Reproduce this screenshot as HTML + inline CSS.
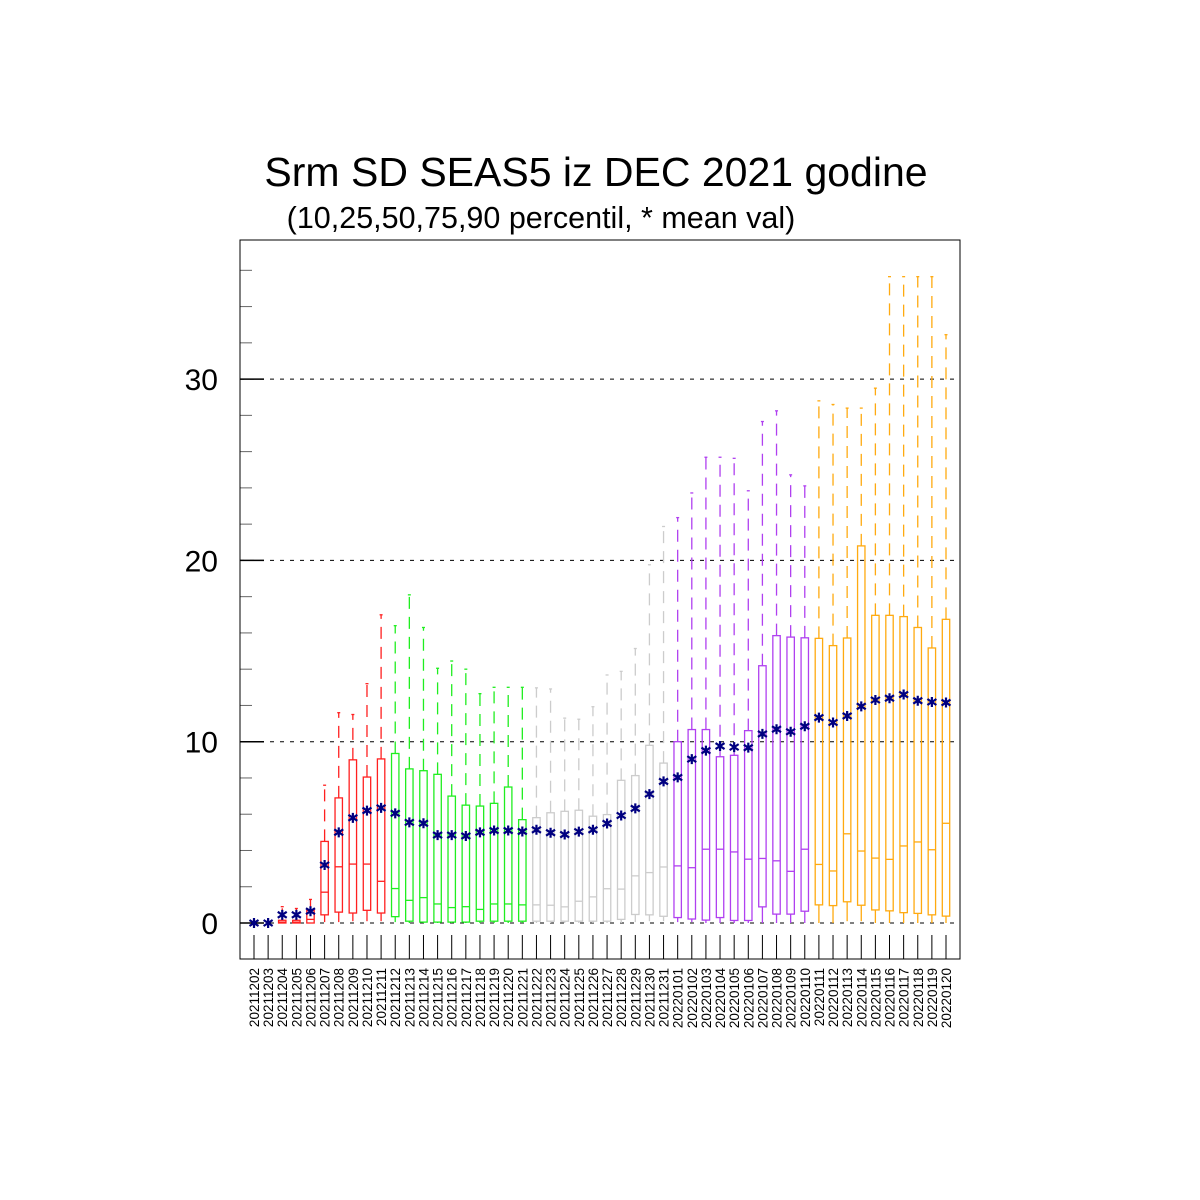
<!DOCTYPE html>
<html><head><meta charset="utf-8"><style>
html,body{margin:0;padding:0;background:#fff;}
svg{display:block;font-family:"Liberation Sans",sans-serif;}
</style></head><body>
<svg id="chart" width="1200" height="1200" viewBox="0 0 1200 1200" xmlns="http://www.w3.org/2000/svg">
<rect width="1200" height="1200" fill="#fff"/>
<text x="596" y="186" font-size="41" text-anchor="middle" fill="#000">Srm SD SEAS5 iz DEC 2021 godine</text>
<text x="541" y="228" font-size="30.5" text-anchor="middle" fill="#000">(10,25,50,75,90 percentil, * mean val)</text>
<g id="plot"></g>
</svg>
<script>
const categories = ["20211202","20211203","20211204","20211205","20211206","20211207","20211208","20211209","20211210","20211211","20211212","20211213","20211214","20211215","20211216","20211217","20211218","20211219","20211220","20211221","20211222","20211223","20211224","20211225","20211226","20211227","20211228","20211229","20211230","20211231","20220101","20220102","20220103","20220104","20220105","20220106","20220107","20220108","20220109","20220110","20220111","20220112","20220113","20220114","20220115","20220116","20220117","20220118","20220119","20220120"];
const p10 = [0,0,0,0,0,0.05,0.05,0.1,0.1,0.1,0.05,0,0,0,0,0,0,0,0,0,0,0,0,0,0,0,0,0.05,0.1,0.1,0.05,0.05,0,0,0,0,0,0,0,0,0,0,0.1,0.1,0,0,0,0,0,0];
const p25 = [0,0,0,0,0,0.45,0.6,0.55,0.7,0.55,0.35,0.1,0.05,0.05,0.05,0.05,0.1,0.1,0.1,0.1,0.1,0.1,0.1,0.1,0.1,0.1,0.2,0.47,0.45,0.37,0.3,0.22,0.16,0.3,0.14,0.14,0.89,0.49,0.49,0.65,1.0,0.96,1.17,0.98,0.72,0.67,0.57,0.53,0.45,0.38];
const p50 = [0,0,0.05,0.05,0.2,1.7,3.1,3.25,3.25,2.3,1.9,1.25,1.4,1.05,0.85,0.9,0.75,1.05,1.05,1.0,1.0,0.98,0.89,1.2,1.44,1.89,1.87,2.6,2.78,3.09,3.15,3.05,4.07,4.07,3.92,3.52,3.56,3.43,2.85,4.07,3.23,2.87,4.92,3.97,3.58,3.51,4.25,4.47,4.04,5.5];
const p75 = [0,0,0.15,0.15,0.7,4.5,6.9,9.0,8.05,9.05,9.35,8.5,8.4,8.2,7.0,6.5,6.45,6.6,7.5,5.7,5.81,6.08,6.16,6.22,5.89,5.98,7.87,8.13,9.8,8.82,10.0,10.67,10.67,9.17,9.25,10.61,14.19,15.85,15.77,15.73,15.7,15.3,15.72,20.8,16.97,16.97,16.9,16.3,15.17,16.75];
const p90 = [0,0,0.9,0.8,1.3,7.6,11.6,11.5,13.2,17.0,16.4,18.1,16.3,14.05,14.45,14.0,12.65,13.0,13.0,13.0,12.97,12.91,11.3,11.24,11.93,13.68,13.88,15.14,19.76,21.87,22.36,23.72,25.69,25.69,25.63,23.84,27.66,28.25,24.72,24.11,28.8,28.6,28.4,28.4,29.5,35.65,35.65,35.65,35.65,32.45];
const means = [0,0,0.45,0.45,0.65,3.2,5.0,5.8,6.2,6.35,6.05,5.55,5.5,4.85,4.85,4.8,5.0,5.1,5.1,5.05,5.14,4.98,4.88,5.04,5.14,5.49,5.93,6.32,7.11,7.81,8.03,9.04,9.51,9.76,9.7,9.67,10.43,10.69,10.55,10.85,11.33,11.06,11.42,11.95,12.3,12.4,12.6,12.26,12.19,12.16];
const yTicks = [0,10,20,30];
const yTickLabels = ["0","10","20","30"];
const groupColors = ["#ff2020","#20ee20","#cccccc","#b040f0","#ffaa10"];

const X0=240,X1=960,Y0=240,Y1=959;
const xScale = i => 254 + i*(946-254)/(categories.length-1);
const yScale = v => 923 - v*18.13;
const NS="http://www.w3.org/2000/svg";
const plot=document.getElementById('plot');
function mk(tag,attrs,parent){const e=document.createElementNS(NS,tag);for(const k in attrs)e.setAttribute(k,attrs[k]);(parent||plot).appendChild(e);return e;}

yTicks.forEach((v,i)=>{
  const g=mk('line',{x1:X0,x2:X1,y1:yScale(v),y2:yScale(v),stroke:'#000','stroke-width':1,'stroke-dasharray':'4,6'});
  
  
  const t=mk('text',{x:218,y:yScale(v)+11,'font-size':30,'text-anchor':'end',fill:'#000'});
  
  
  t.textContent=yTickLabels[i];
  const tk=mk('line',{x1:X0,x2:X0+24,y1:yScale(v),y2:yScale(v),stroke:'#000','stroke-width':1.5});
  
  
});
for(let v=-2;v<=38;v+=2){
  if(v%10===0)continue;
  const y=yScale(v); if(y<Y0||y>Y1)continue;
  const tk=mk('line',{x1:X0,x2:X0+12,y1:y,y2:y,stroke:'#666','stroke-width':1});
  
  
}
categories.forEach((c,i)=>{
  const x=xScale(i), col=groupColors[Math.floor(i/10)], hw=3.7;
  const g=mk('g',{});
  
  
  const tk=mk('line',{x1:x,x2:x,y1:935,y2:Y1,stroke:'#000','stroke-width':1},g);
  
  
  if(p90[i]>p75[i]){
    const w=mk('line',{x1:x,x2:x,y1:yScale(p75[i]),y2:yScale(p90[i]),stroke:col,'stroke-width':1.3,'stroke-dasharray':'12,8'},g);
    
    
    const cap=mk('line',{x1:x-1.5,x2:x+1.5,y1:yScale(p90[i]),y2:yScale(p90[i]),stroke:col,'stroke-width':1.3},g);
    
    
  }
  if(p25[i]>p10[i]){
    const w=mk('line',{x1:x,x2:x,y1:yScale(p10[i]),y2:yScale(p25[i]),stroke:col,'stroke-width':1.3},g);
    
    
  }
  if(p75[i]>p25[i]){
    const r=mk('rect',{x:x-hw,y:yScale(p75[i]),width:hw*2,height:yScale(p25[i])-yScale(p75[i]),fill:'none',stroke:col,'stroke-width':1.3},g);
    
    
    const m=mk('line',{x1:x-hw,x2:x+hw,y1:yScale(p50[i]),y2:yScale(p50[i]),stroke:col,'stroke-width':1.3},g);
    
    
  }
  const my=yScale(means[i]);
  const s=mk('path',{d:'M'+x+' '+(my-5)+'V'+(my+5)+'M'+(x-4.5)+' '+(my-3)+'L'+(x+4.5)+' '+(my+3)+'M'+(x-4.5)+' '+(my+3)+'L'+(x+4.5)+' '+(my-3),stroke:'#000080','stroke-width':2.2,fill:'none'},g);
  
  
  const lbl=mk('text',{x:0,y:0,'font-size':13.5,'text-anchor':'end',fill:'#000',transform:'translate('+(x+5)+',968) rotate(-90)'});
  
  
  lbl.textContent=c;
});
const frame=mk('rect',{x:X0,y:Y0,width:X1-X0,height:Y1-Y0,fill:'none',stroke:'#000','stroke-width':1});


</script>
</body></html>
